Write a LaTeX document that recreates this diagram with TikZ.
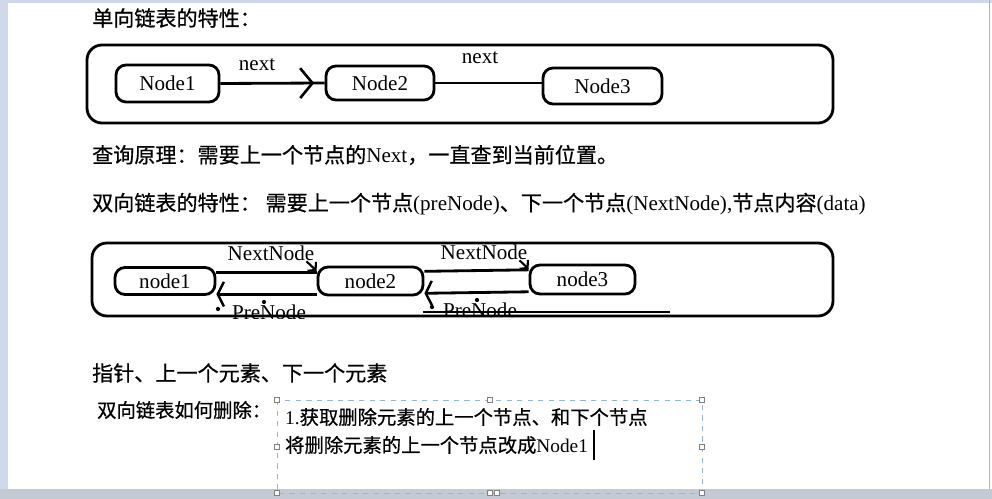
\documentclass[tikz,border=0pt]{standalone}
\usepackage{fontspec}
\setmainfont{Liberation Serif}
\newfontfamily\cjk[FakeBold=0.6]{Noto Sans CJK SC}
\usetikzlibrary{arrows.meta,decorations.markings}
\definecolor{pagebar}{RGB}{206,218,234}
\definecolor{statusbar}{RGB}{196,202,212}
\definecolor{boxblue}{RGB}{150,182,222}
\tikzset{
  listbox/.style={draw, line width=1.6pt, rounded corners=0.2cm, inner sep=0pt},
  link/.style={line width=1.6pt},
  backbarb/.style={-{Straight Barb[length=3.5pt,width=14pt,line width=1.4pt]}},
  ptrbarb/.style={-{Straight Barb[length=3pt,width=7pt,line width=1.2pt]}},
  handle/.style={draw=gray, fill=white, line width=0.4pt, minimum size=3pt, inner sep=0pt},
}

\begin{document}
\begin{tikzpicture}[x=0.02cm, y=-0.02cm, every node/.style={font=\fontsize{12pt}{14pt}\selectfont}]
				\useasboundingbox (0,0) rectangle (992,499);
				% 页面背景
				\fill[white] (0,0) rectangle (992,499);
				\fill[pagebar] (0,0) rectangle (8,499);
				\fill[pagebar] (0,0) rectangle (992,3);
				\fill[statusbar] (0,489) rectangle (992,499);
				\draw[gray!60] (989,0) -- (989,489);
				
				% 单向链表
				\node[anchor=west] (title1) at (86,18) {\cjk 单向链表的特性：};
				\draw[line width=1.6pt, rounded corners=0.3cm] (87,45) rectangle (833,123);
				\node[listbox, minimum width=2.06cm, minimum height=0.74cm] (n1) at (167.5,83.5) {Node1};
				\node[listbox, minimum width=2.16cm, minimum height=0.68cm] (n2) at (380,83) {Node2};
				\node[listbox, minimum width=2.38cm, minimum height=0.72cm] (n3) at (602.5,86) {Node3};
				\draw[link, postaction={decorate}, decoration={markings, mark=at position 0.9 with {\arrow{Straight Barb[length=7pt,width=17pt,line width=1.5pt]}}}] (n1.east) -- (n2.west);
				\draw[link] (n2.east) -- (n2.east -| n3.west);
				\node (next1) at (257,65) {next};
				\node (next2) at (480,58) {next};
				
				% 说明
				\node[anchor=west] (query) at (86,155) {{\cjk 查询原理：需要上一个节点的}Next{\cjk ，一直查到当前位置。}};
				\node[anchor=west] (title2) at (86,204) {{\cjk 双向链表的特性：\ 需要上一个节点}(preNode){\cjk 、下一个节点}(NextNode),{\cjk 节点内容}(data)};
				
				% 双向链表
				\draw[line width=1.6pt, rounded corners=0.3cm] (92,243) rectangle (833,316);
				\node[listbox, minimum width=2.0cm, minimum height=0.54cm] (m1) at (165,281) {node1};
				\node[listbox, minimum width=2.1cm, minimum height=0.56cm] (m2) at (370.5,281) {node2};
				\node[listbox, minimum width=2.1cm, minimum height=0.58cm] (m3) at (582.5,279.5) {node3};
				\draw[link] ([yshift=5pt]m1.east) -- ([yshift=5pt]m2.west);
				\draw[link, backbarb] ([yshift=-7.5pt]m2.west) -- ([yshift=-7.5pt]m1.east);
				\draw[link] ([yshift=5.5pt]m2.east) -- ([yshift=5.5pt]m3.west);
				\draw[link, backbarb] ([yshift=-7pt]m3.west) -- ([yshift=-7pt]m2.east);
				\node (nx1) at (271,253) {NextNode};
				\node (nx2) at (484,252) {NextNode};
				\draw[line width=1.2pt, ptrbarb] ([xshift=-8pt,yshift=3pt]nx1.south east) -- ([yshift=-3pt]m2.north west);
				\draw[line width=1.2pt, ptrbarb] ([xshift=-8pt,yshift=3pt]nx2.south east) -- ([yshift=-3pt]m3.north west);
				\draw[line width=0.8pt] (423,312) -- (670,312);
				\begin{scope}
					\clip (0,0) rectangle (992,319);
					\node (pre1) at (269,312) {PreNode};
					\node (pre2) at (480,310) {PreNode};
				\end{scope}
				\fill (218,309) circle (1.2pt);
				\fill (264,302) circle (1.2pt);
				\fill (432,307) circle (1.2pt);
				\fill (477,300) circle (1.2pt);
				
				% 删除
				\node[anchor=west] (title3) at (86,373) {\cjk 指针、上一个元素、下一个元素};
				\node[anchor=west, font=\fontsize{11pt}{13pt}\selectfont] (title4) at (91,410) {\cjk 双向链表如何删除：};
				\draw[boxblue, dashed, line width=0.5pt] (277,400) rectangle (702,493);
				\foreach \hx/\hy [count=\i] in {277/400, 490/400, 702/400, 277/447, 702/447, 277/493, 490/493, 497/493, 702/493}
					\node[handle] (h\i) at (\hx,\hy) {};
				\node[anchor=west, font=\fontsize{11pt}{13pt}\selectfont] (step1) at (279,417) {1.{\cjk 获取删除元素的上一个节点、和下个节点}};
				\node[anchor=west, font=\fontsize{11pt}{13pt}\selectfont] (step2) at (279,445) {{\cjk 将删除元素的上一个节点改成}Node1};
				\draw[line width=0.6pt] (594,430) -- (594,460);
			\end{tikzpicture}
\end{document}
